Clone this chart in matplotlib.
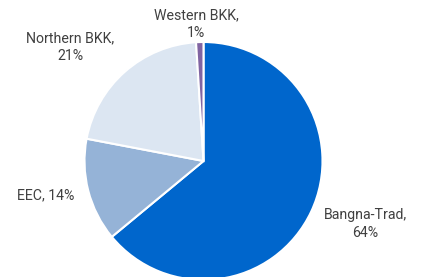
import matplotlib
matplotlib.use("Agg")
import matplotlib.pyplot as plt

names = ["Bangna-Trad", "EEC", "Northern BKK", "Western BKK"]
shares = [64, 14, 21, 1]
colors = ["#0066CC", "#95B3D7", "#DCE6F2", "#8064A2"]

W, H = 421, 277
cx, cy, r = 203.5, 161, 119  # pie centre / radius in pixels

fig = plt.figure(figsize=(W / 100, H / 100), dpi=100)
ax = fig.add_axes([0, 0, 1, 1])
ax.pie(shares, colors=colors, startangle=90, counterclock=False,
       wedgeprops=dict(edgecolor="white", linewidth=1.5))
ax.set_aspect("auto")
ax.set_xlim(-cx / r, (W - cx) / r)
ax.set_ylim(-(H - cy) / r, cy / r)
ax.axis("off")

# label anchor positions in pixels (x, y from top)
label_pos = [(365, 224), (46, 195), (70, 47), (196, 24)]
for name, v, (px, py) in zip(names, shares, label_pos):
    txt = f"{name}, {v}%" if name == "EEC" else f"{name},\n{v}%"
    ax.text((px - cx) / r, (cy - py) / r, txt, ha="center", va="center",
            fontsize=10.2, color="#404040", family="Roboto", linespacing=1.3)

fig.savefig("out.png", dpi=100)
